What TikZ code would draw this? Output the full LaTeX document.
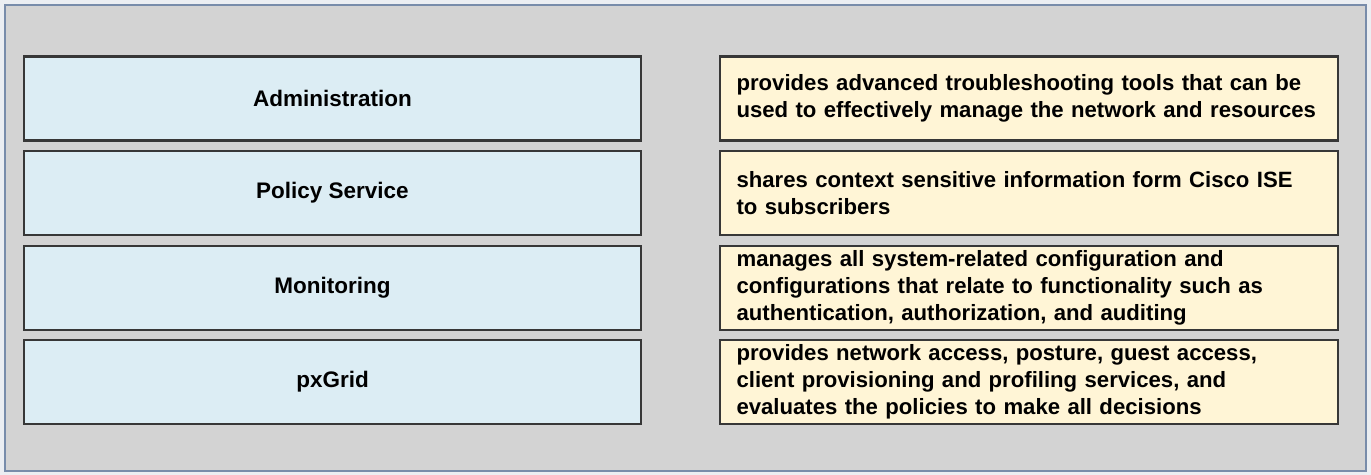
\documentclass[tikz,border=0pt]{standalone}
\usepackage{fontspec}
\setmainfont{Liberation Sans}
\usepackage{tikz}
\definecolor{panelgray}{RGB}{211, 211, 211}
\definecolor{panelrim}{RGB}{120, 140, 170}
\definecolor{rolefill}{RGB}{220, 237, 244}
\definecolor{descfill}{RGB}{255, 245, 214}
\definecolor{boxline}{RGB}{55, 55, 55}
\tikzset{
	rolebox/.style={draw=boxline, line width=1.2pt, fill=rolefill, minimum width=12.34cm, minimum height=1.68cm, font=\bfseries\fontsize{12.8}{15.3}\selectfont, inner sep=0pt},
	descbox/.style={draw=boxline, line width=1.2pt, fill=descfill, minimum width=12.36cm, minimum height=1.68cm, text width=11.7cm, align=left, font=\bfseries\fontsize{12.6}{15.3}\selectfont, inner xsep=0.33cm, inner ysep=0pt}
}

\begin{document}
\begin{tikzpicture}[x=0.02cm, y=-0.02cm]
	\useasboundingbox (0,0) rectangle (1371,475);
	\fill[white!85!panelrim] (0,0) rectangle (1371,475);
	\draw[panelrim, line width=1.2pt, fill=panelgray] (5,5) rectangle (1366,471);

	% left column
	\node[rolebox] (admin) at (332.5,98.5) {Administration};
	\node[rolebox] (policy) at (332.5,193) {Policy Service};
	\node[rolebox] (monitor) at (332.5,288) {Monitoring};
	\node[rolebox] (pxgrid) at (332.5,382) {pxGrid};

	% right column
	\node[descbox] (troubleshoot) at (1029,98.5) {provides advanced troubleshooting tools that can be\\used to effectively manage the network and resources};
	\node[descbox] (share) at (1029,193) {shares context sensitive information form Cisco ISE\\to subscribers};
	\node[descbox] (config) at (1029,288) {manages all system-related configuration and\\configurations that relate to functionality such as\\authentication, authorization, and auditing};
	\node[descbox] (access) at (1029,382) {provides network access, posture, guest access,\\client provisioning and profiling services, and\\evaluates the policies to make all decisions};
\end{tikzpicture}
\end{document}
